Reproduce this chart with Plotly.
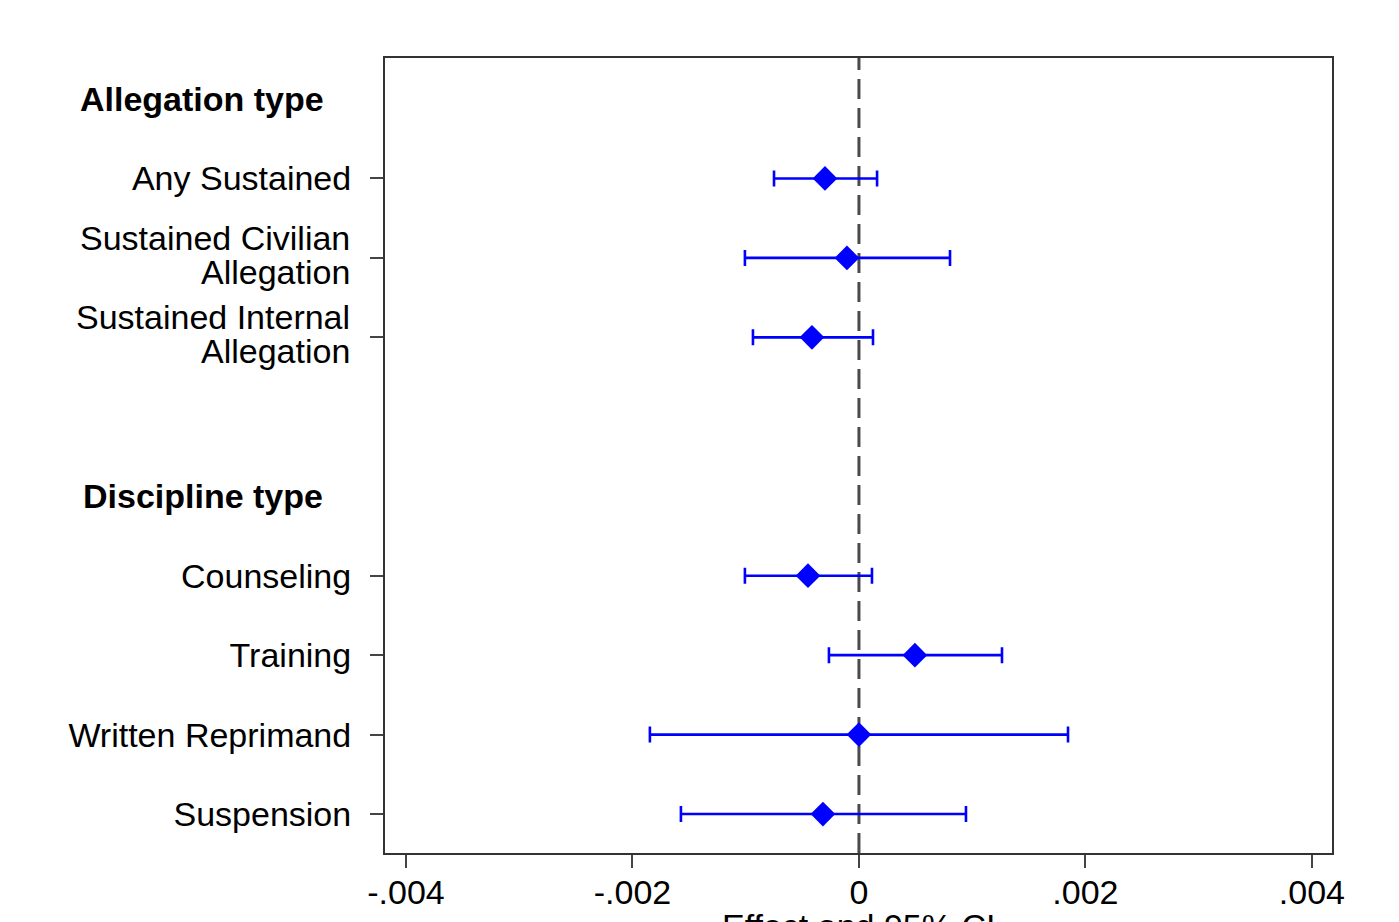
import plotly.graph_objects as go

labels = ["Any Sustained", "Sustained Civilian<br>Allegation", "Sustained Internal<br>Allegation",
          "Counseling", "Training", "Written Reprimand", "Suspension"]
rows = [1, 2, 3, 6, 7, 8, 9]
effects = [-0.00030, -0.000106, -0.000415, -0.00045, 0.000494, 0.0, -0.000318]
ci_low = [-0.00075, -0.001007, -0.000936, -0.001007, -0.000265, -0.001846, -0.001572]
ci_high = [0.00016, 0.000804, 0.000124, 0.000115, 0.001263, 0.001846, 0.000945]
headers = ["Allegation type", "Discipline type"]
header_rows = [0, 5]
xticks = [-0.004, -0.002, 0, 0.002, 0.004]
xticklabels = ["-.004", "-.002", "0", ".002", ".004"]
xtitle = "Effect and 95% CI"

font = "Liberation Sans, Arial, sans-serif"
FS = 34

fig = go.Figure()
fig.add_trace(go.Scatter(
    x=effects, y=rows, mode="markers",
    marker=dict(symbol="diamond", size=19, color="#0000FF"),
    error_x=dict(type="data", symmetric=False,
                 array=[h - e for h, e in zip(ci_high, effects)],
                 arrayminus=[e - l for e, l in zip(effects, ci_low)],
                 color="#0000FF", thickness=2.6, width=8),
    showlegend=False,
))

fig.add_shape(type="line", xref="x", yref="paper", x0=0, x1=0, y0=0, y1=1,
              line=dict(color="#4a4a4a", width=3, dash="20px,9px"), layer="below")

for h, r, xp in zip(headers, header_rows, [78, 81]):
    fig.add_annotation(text="<b>%s</b>" % h, xref="paper", yref="y",
                       x=0, xshift=xp - 385, y=r, xanchor="left", yanchor="middle",
                       showarrow=False, font=dict(size=FS, color="black", family=font))

# tick labels: single-line via ticktext, multi-line via per-line annotations (tight line spacing)
ticktext = []
for lab, r in zip(labels, rows):
    parts = lab.split("<br>")
    if len(parts) == 1:
        ticktext.append(lab)
    else:
        ticktext.append("")
        for i, p in enumerate(parts):
            fig.add_annotation(text=p, xref="paper", yref="y", x=0, xshift=-33,
                               y=r, yshift=20 - 34 * i, xanchor="right", yanchor="middle",
                               showarrow=False, font=dict(size=FS, color="black", family=font))

fig.add_annotation(text=xtitle, xref="x", yref="paper", x=0, y=-(905 - 853) / 795,
                   xanchor="center", yanchor="top", showarrow=False,
                   font=dict(size=FS, color="black", family=font))

fig.update_layout(
    width=1399, height=922,
    margin=dict(l=377, r=75, t=50, b=77),
    paper_bgcolor="white", plot_bgcolor="white",
    font=dict(family=font, color="black"),
    xaxis=dict(range=[-0.004185, 0.004177], tickvals=xticks, ticktext=xticklabels,
               ticks="outside", ticklen=13, tickwidth=2, tickcolor="#444",
               ticklabelstandoff=-5,
               tickfont=dict(size=FS, color="black"),
               showgrid=False, zeroline=False, automargin=False,
               showline=True, mirror=True, linecolor="#333", linewidth=2),
    yaxis=dict(range=[9.49, -0.516], tickvals=rows, ticktext=ticktext,
               ticks="outside", ticklen=13, tickwidth=2, tickcolor="#444",
               ticklabelstandoff=12, automargin=False,
               tickfont=dict(size=FS, color="black"),
               showgrid=False, zeroline=False,
               showline=True, mirror=True, linecolor="#333", linewidth=2),
)

fig.write_html("out.html")
